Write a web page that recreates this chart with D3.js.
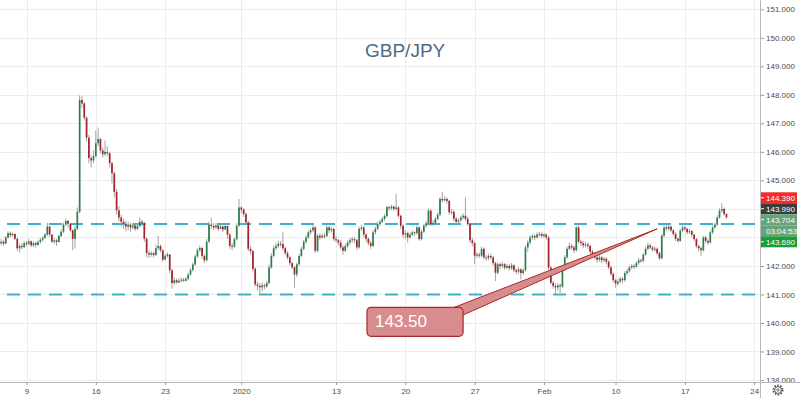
<!DOCTYPE html>
<html>
<head>
<meta charset="utf-8">
<title>GBP/JPY</title>
<script src="https://d3js.org/d3.v7.min.js"></script>
<style>
  body { margin: 0; background: #fff; }
  svg { display: block; font-family: "Liberation Sans", Arial, sans-serif; }
  .axis text { font-size: 8px; fill: #4b4b4b; }
  .axis .domain { display: none; }
  .axis .tick line { stroke: #9a9a9a; }
</style>
</head>
<body>
<svg width="800" height="398"></svg>
<script>
// 4h candles, Dec 2019 - Feb 2020 (open = previous close)
const firstOpen = 142.80;
const closes = [
  142.85,142.78,143.00,143.15,143.08,143.12,142.95,142.62,142.70,142.66,
  142.80,142.78,142.86,142.72,142.80,142.74,142.84,142.92,142.98,143.10,
  143.38,143.10,142.85,142.90,142.84,143.05,143.20,143.45,143.58,143.48,
  143.25,142.95,143.30,143.90,147.82,147.70,147.20,146.50,145.78,145.70,
  145.85,146.30,146.45,146.05,145.92,146.00,145.95,145.60,145.25,144.60,
  143.95,143.70,143.55,143.48,143.38,143.45,143.35,143.42,143.30,143.40,
  143.55,143.50,142.95,142.45,142.40,142.45,142.38,142.62,142.70,142.55,
  142.22,142.35,142.40,141.85,141.40,141.50,141.42,141.48,141.52,141.48,
  141.55,141.70,141.86,142.05,142.33,142.55,142.63,142.35,142.20,142.85,
  143.45,143.40,143.35,143.42,143.30,143.38,143.28,143.40,143.10,142.70,
  142.68,142.94,143.41,144.05,143.98,143.82,143.53,142.60,142.52,141.90,
  141.35,141.30,141.25,141.32,141.28,141.40,141.95,142.35,142.62,142.70,
  142.78,142.77,142.62,142.45,142.30,142.10,141.95,141.70,142.06,142.35,
  142.60,142.85,143.00,143.18,143.25,143.35,142.53,143.06,143.00,143.06,
  143.05,143.35,143.25,143.30,142.94,142.90,142.82,142.65,142.53,142.70,
  142.82,142.90,142.94,142.90,142.65,143.30,143.35,143.10,142.95,142.80,
  142.70,143.18,143.30,143.47,143.55,143.65,143.75,144.06,144.02,144.08,
  144.00,144.05,143.76,143.41,143.10,143.15,143.00,143.10,143.18,143.15,
  143.35,142.94,143.20,143.41,143.50,143.94,143.47,143.50,143.65,143.80,
  144.35,144.30,144.35,144.28,143.88,143.90,143.65,143.55,143.60,143.70,
  143.76,143.65,143.47,142.90,142.80,142.36,142.40,142.36,142.60,142.30,
  142.28,142.35,142.30,142.10,141.76,142.06,142.00,142.06,141.94,142.00,
  141.92,142.02,141.85,141.80,141.88,141.75,141.85,142.65,142.82,143.00,
  143.05,143.00,143.10,143.12,143.05,143.10,143.00,141.94,141.41,141.30,
  141.25,141.32,141.28,141.88,142.30,142.60,142.70,142.65,142.55,143.35,
  142.85,142.80,142.72,142.75,142.70,142.50,142.40,142.30,142.22,142.30,
  142.20,142.25,142.15,141.95,141.72,141.50,141.38,141.45,141.55,141.50,
  141.75,141.82,141.95,142.00,141.98,142.10,142.20,142.18,142.40,142.60,
  142.72,142.65,142.58,142.60,142.45,142.27,143.06,143.35,143.30,143.38,
  143.25,143.12,142.95,142.88,143.24,143.35,143.30,143.18,143.22,143.10,
  142.94,142.70,142.62,142.55,143.00,142.88,142.82,143.18,143.35,143.45,
  143.70,143.94,144.00,143.82,143.70
];
const highs = [
  142.95,142.90,143.05,143.22,143.20,143.18,143.15,142.98,142.78,142.80,
  142.86,142.88,142.95,142.90,142.86,142.86,142.90,142.98,143.05,143.15,
  143.52,143.40,143.12,142.98,142.96,143.10,143.28,143.52,143.66,143.62,
  143.50,143.28,143.40,144.05,147.98,147.96,147.75,147.25,146.60,145.90,
  146.05,146.75,146.85,146.50,146.15,146.40,146.20,146.00,145.65,145.30,
  144.70,144.10,143.80,143.65,143.60,143.55,143.52,143.50,143.48,143.50,
  143.70,143.62,143.55,143.00,142.55,142.52,142.50,142.75,143.05,142.75,
  142.60,142.42,142.48,142.42,141.90,141.60,141.55,141.56,141.60,141.58,
  141.62,141.76,141.92,142.12,142.40,142.62,142.72,142.66,142.40,142.95,
  143.55,143.70,143.50,143.50,143.45,143.46,143.42,143.48,143.42,143.15,
  142.80,143.00,143.50,144.35,144.10,144.02,143.88,143.58,142.70,142.55,
  141.95,141.45,141.40,141.42,141.38,141.48,142.05,142.45,142.72,142.80,
  142.88,142.88,143.20,142.68,142.52,142.35,142.15,142.00,142.12,142.42,
  142.68,142.92,143.08,143.25,143.32,143.43,143.40,143.12,143.15,143.14,
  143.15,143.42,143.40,143.38,143.35,143.05,142.96,142.90,142.72,142.78,
  142.90,142.98,143.02,143.00,142.95,143.38,143.45,143.40,143.15,143.00,
  142.88,143.25,143.38,143.55,143.62,143.72,143.82,144.12,144.12,144.15,
  144.12,144.52,144.10,143.80,143.45,143.25,143.20,143.18,143.25,143.22,
  143.42,143.40,143.28,143.48,143.58,144.02,143.98,143.60,143.72,143.88,
  144.42,144.60,144.45,144.40,144.32,144.00,143.95,143.72,143.68,143.78,
  143.85,144.41,143.72,143.50,142.98,142.85,142.48,142.46,142.68,142.65,
  142.38,142.42,142.42,142.35,142.15,142.12,142.12,142.14,142.10,142.08,
  142.06,142.10,142.06,141.92,141.95,141.92,141.92,142.72,142.90,143.08,
  143.12,143.10,143.18,143.20,143.18,143.16,143.14,143.05,142.00,141.48,
  141.38,141.40,141.38,141.95,142.38,142.68,142.82,142.78,142.72,143.40,
  143.42,142.92,142.88,142.85,142.82,142.75,142.58,142.48,142.38,142.38,
  142.36,142.32,142.30,142.20,142.00,141.78,141.55,141.55,141.62,141.62,
  141.82,141.92,142.02,142.08,142.06,142.16,142.28,142.26,142.46,142.68,
  142.82,142.78,142.70,142.68,142.65,142.50,143.12,143.42,143.43,143.45,
  143.42,143.30,143.18,143.00,143.30,143.43,143.40,143.34,143.30,143.26,
  143.14,142.98,142.75,142.68,143.06,143.05,142.94,143.24,143.42,143.52,
  143.78,144.02,144.20,144.05,143.86
];
const lows = [
  142.72,142.70,142.76,142.95,143.00,143.02,142.90,142.52,142.48,142.58,
  142.62,142.70,142.72,142.66,142.66,142.64,142.70,142.78,142.86,142.95,
  143.05,143.02,142.80,142.76,142.70,142.82,143.00,143.15,143.40,143.35,
  143.20,142.55,142.60,143.25,143.85,147.55,147.10,146.35,145.60,145.45,
  145.60,145.80,146.20,145.95,145.80,145.85,145.85,145.45,144.90,144.40,
  143.80,143.55,143.40,143.30,143.22,143.25,143.20,143.28,143.22,143.25,
  143.35,143.40,142.85,142.30,142.28,142.32,142.30,142.35,142.55,142.48,
  142.15,142.20,142.28,141.75,141.20,141.35,141.38,141.40,141.42,141.44,
  141.45,141.50,141.65,141.80,142.00,142.28,142.50,142.25,142.10,142.15,
  142.80,143.30,143.25,143.30,143.22,143.28,143.18,143.25,142.95,142.60,
  142.55,142.62,142.90,143.38,143.85,143.72,143.45,142.52,142.40,141.80,
  141.28,141.15,140.98,141.10,141.18,141.22,141.35,141.90,142.30,142.55,
  142.62,142.66,142.55,142.38,142.22,142.02,141.88,141.24,141.62,142.00,
  142.30,142.55,142.78,142.95,143.10,143.18,142.45,142.48,142.92,142.95,
  142.96,143.00,143.15,143.18,142.88,142.82,142.72,142.58,142.40,142.48,
  142.62,142.75,142.82,142.80,142.55,142.60,143.22,143.00,142.85,142.72,
  142.60,142.65,143.10,143.25,143.40,143.50,143.58,143.70,143.94,143.96,
  143.92,143.95,143.70,143.30,143.00,142.95,142.82,142.95,143.05,143.05,
  143.10,142.88,142.90,143.15,143.35,143.45,143.40,143.40,143.45,143.60,
  143.75,144.22,144.25,144.18,143.80,143.80,143.55,143.48,143.48,143.55,
  143.62,143.58,143.40,142.82,142.70,142.06,142.28,142.28,142.30,142.22,
  142.18,142.20,142.22,142.02,141.47,141.70,141.88,141.92,141.86,141.88,
  141.84,141.86,141.78,141.70,141.72,141.53,141.68,141.80,142.50,142.75,
  142.92,142.90,142.95,143.02,142.98,142.98,142.92,141.85,141.35,141.20,
  141.00,141.12,141.05,141.22,141.82,142.25,142.55,142.55,142.45,142.50,
  142.78,142.70,142.62,142.65,142.60,142.42,142.32,142.22,142.12,142.15,
  142.10,142.12,142.05,141.88,141.65,141.42,141.24,141.30,141.38,141.40,
  141.45,141.68,141.76,141.88,141.90,141.92,142.04,142.10,142.12,142.35,
  142.55,142.58,142.50,142.50,142.38,142.20,142.22,143.00,143.22,143.22,
  143.18,143.05,142.88,142.82,142.84,143.18,143.22,143.10,143.12,143.02,
  142.88,142.62,142.52,142.35,142.50,142.80,142.74,142.78,143.12,143.30,
  143.40,143.65,143.88,143.76,143.65
];

// date axis: candle index of each label
const tickIndex = [11, 41, 71, 104, 145, 175, 205, 235, 266, 296, 326];
const tickLabels = ["9", "16", "23", "2020", "13", "20", "27", "Feb", "10", "17", "24"];
const priceTicks = [138, 139, 140, 141, 142, 143, 144, 145, 146, 147, 148, 149, 150, 151];
// 143 and 144 sit under the last-value labels
const hiddenTicks = [143, 144];

// horizontal dashed levels
const levels = [143.47, 141.00];

// right-hand price labels (stacked)
const sideLabels = ["144.390", "143.990", "143.704", "03:04:53", "143.690"];
const sideColors = ["#f22b2b", "#3c3c3c", "#68a37d", "#68a37d", "#1b9e34"];

// callout drawing: [index, price]
const noteText = "143.50";
const noteTip = [284, 143.30];
const noteBase = [[196.2, 140.55], [200, 140.28]];
const noteBox = [[158.4, 140.55], [200, 139.53]];

const svg = d3.select("svg");
const plotRight = 760;
const plotBottom = 382;

const x = d3.scaleLinear().domain([0, 314]).range([1.1, 1.1 + 314 * 2.31]);
const y = d3.scaleLinear().domain([138, 151]).range([380, 9.3]);

// grid
const grid = svg.append("g");
grid.selectAll(".h").data(priceTicks).enter().append("line")
    .attr("x1", 0).attr("x2", plotRight)
    .attr("y1", d => Math.round(y(d)) + 0.5).attr("y2", d => Math.round(y(d)) + 0.5)
    .attr("stroke", "#ececec");
grid.selectAll(".v").data(tickIndex).enter().append("line")
    .attr("x1", d => Math.round(x(d)) + 0.5).attr("x2", d => Math.round(x(d)) + 0.5)
    .attr("y1", 0).attr("y2", plotBottom)
    .attr("stroke", "#ececec");

// title
svg.append("text")
    .attr("x", 365).attr("y", 57)
    .attr("font-size", 19)
    .attr("fill", "#4e6b82")
    .text("GBP/JPY");

// levels
svg.selectAll(".level").data(levels).enter().append("line")
    .attr("x1", 0).attr("x2", plotRight)
    .attr("y1", d => y(d)).attr("y2", d => y(d))
    .attr("stroke", "#3fb1ce")
    .attr("stroke-width", 2)
    .attr("stroke-dasharray", "13,8")
    .attr("stroke-dashoffset", 14);

// candles
const candles = closes.map((c, i) => ({
  i, o: i ? closes[i - 1] : firstOpen, c, h: highs[i], l: lows[i]
}));
const cg = svg.append("g");
cg.selectAll(".wick").data(candles).enter().append("line")
    .attr("x1", d => x(d.i)).attr("x2", d => x(d.i))
    .attr("y1", d => y(d.h)).attr("y2", d => y(d.l))
    .attr("stroke", "#9a9a9a")
    .attr("stroke-width", 0.9);
cg.selectAll(".body").data(candles).enter().append("rect")
    .attr("x", d => x(d.i) - 0.85)
    .attr("width", 1.7)
    .attr("y", d => y(Math.max(d.o, d.c)))
    .attr("height", d => Math.max(1, Math.abs(y(d.o) - y(d.c))))
    .attr("fill", d => d.c >= d.o ? "#2a7f4c" : "#a3222b");

// callout
const tail = [noteBase[0], noteBase[1], noteTip].map(p => [x(p[0]), y(p[1])]);
svg.append("polygon")
    .attr("points", tail.map(p => p.join(",")).join(" "))
    .attr("fill", "#d98c8d")
    .attr("stroke", "#a82a2a")
    .attr("stroke-width", 1);
svg.append("rect")
    .attr("x", x(noteBox[0][0])).attr("y", y(noteBox[0][1]))
    .attr("width", x(noteBox[1][0]) - x(noteBox[0][0]))
    .attr("height", y(noteBox[1][1]) - y(noteBox[0][1]))
    .attr("rx", 4)
    .attr("fill", "#d98c8d")
    .attr("stroke", "#a82a2a")
    .attr("stroke-width", 1.2);
svg.append("text")
    .attr("x", x(noteBox[0][0]) + 8)
    .attr("y", y(noteBox[1][1]) - 9)
    .attr("font-size", 17)
    .attr("fill", "#fff")
    .text(noteText);

// price axis
svg.append("rect").attr("x", plotRight).attr("y", 0)
    .attr("width", 800 - plotRight).attr("height", 398).attr("fill", "#fff");
svg.append("g")
    .attr("class", "axis")
    .attr("transform", `translate(${plotRight},0)`)
    .call(d3.axisRight(y).tickValues(priceTicks.filter(d => !hiddenTicks.includes(d)))
      .tickFormat(d3.format(".3f")).tickSize(4).tickPadding(2));

// stacked last-value labels
const labelTop = y(144.39);
const lg = svg.append("g");
sideLabels.forEach((t, k) => {
  const cy = labelTop + k * 11;
  lg.append("rect")
      .attr("x", plotRight).attr("y", cy - 5.5)
      .attr("width", 37).attr("height", 11)
      .attr("fill", sideColors[k]);
  if (t.indexOf(":") < 0) {
    lg.append("line")
        .attr("x1", plotRight).attr("x2", plotRight + 4)
        .attr("y1", cy).attr("y2", cy)
        .attr("stroke", "#fff");
  }
  lg.append("text")
      .attr("x", plotRight + 6).attr("y", cy)
      .attr("dy", "0.35em")
      .attr("font-size", 8)
      .attr("fill", "#fff")
      .text(t);
});

// date axis
svg.append("rect").attr("x", 0).attr("y", plotBottom)
    .attr("width", 800).attr("height", 398 - plotBottom).attr("fill", "#fff");
svg.append("g")
    .attr("class", "axis")
    .attr("transform", `translate(0,${plotBottom})`)
    .call(d3.axisBottom(x).tickValues(tickIndex)
      .tickFormat((d, i) => tickLabels[i]).tickSize(3).tickPadding(3));

// frame lines
svg.append("line")
    .attr("x1", 0).attr("x2", 800)
    .attr("y1", plotBottom + 0.5).attr("y2", plotBottom + 0.5)
    .attr("stroke", "#b8b8b8");
svg.append("line")
    .attr("x1", plotRight + 0.5).attr("x2", plotRight + 0.5)
    .attr("y1", 0).attr("y2", 398)
    .attr("stroke", "#b8b8b8");

// settings gear
const gear = svg.append("g").attr("transform", "translate(778,390)");
gear.append("circle").attr("r", 4.6)
    .attr("fill", "none").attr("stroke", "#555")
    .attr("stroke-width", 1.8).attr("stroke-dasharray", "1.6,1.3");
gear.append("circle").attr("r", 3.4)
    .attr("fill", "#fff").attr("stroke", "#555").attr("stroke-width", 1);
gear.append("circle").attr("r", 1.2)
    .attr("fill", "none").attr("stroke", "#555").attr("stroke-width", 0.8);
</script>
</body>
</html>
